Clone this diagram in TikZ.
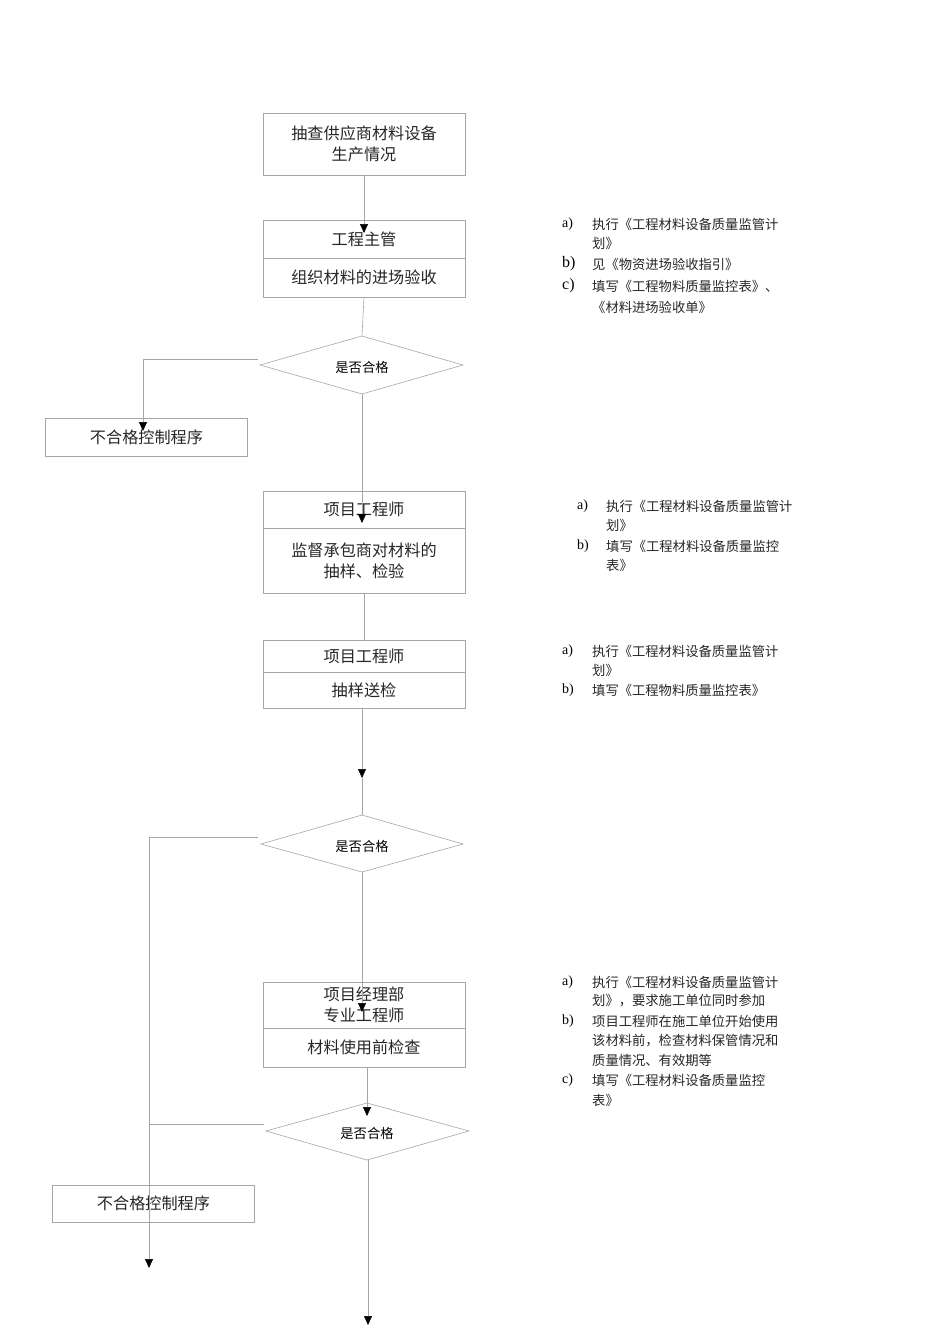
\documentclass[tikz,border=0pt]{standalone}
\usepackage{fontspec}
\setmainfont{Liberation Serif}
\newfontfamily\cjk{Noto Sans CJK SC}[Scale=0.95]
\usetikzlibrary{arrows.meta}
\tikzset{
 ln/.style={draw=black!35,line width=0.6pt},
 arr/.style={ln,-{Triangle[length=9pt,width=8pt,fill=black,color=black]}},
 bx/.style={draw=black!35,line width=0.6pt,minimum width=202pt,inner sep=0pt,align=center,font=\cjk\fontsize{17}{21}\selectfont,text=black!85},
 dia/.style={draw=black!35,line width=0.6pt},
 lbl/.style={anchor=west,font=\fontsize{14}{16}\selectfont,inner sep=0pt},
 rt/.style={anchor=west,font=\cjk\fontsize{14}{16}\selectfont,inner sep=0pt,text=black!85},
 dl/.style={font=\cjk\fontsize{14}{16}\selectfont,inner sep=0pt}
}
\begin{document}
\begin{tikzpicture}[x=1pt,y=-1pt]
\useasboundingbox (0,0) rectangle (950,1344);
% boxes
\node[bx,minimum height=62pt] (b1) at (364,144) {抽查供应商材料设备\\生产情况};
\node[bx,minimum height=38pt] (b2t) at (364,239) {工程主管};
\node[bx,minimum height=39pt] (b2b) at (364,277.5) {组织材料的进场验收};
\node[bx,minimum height=38pt] (n1) at (146.5,437) {不合格控制程序};
\node[bx,minimum height=37pt] (b3t) at (364,509.5) {项目工程师};
\node[bx,minimum height=65pt] (b3b) at (364,560.5) {监督承包商对材料的\\抽样、检验};
\node[bx,minimum height=32pt] (b4t) at (364,656) {项目工程师};
\node[bx,minimum height=36pt] (b4b) at (364,690) {抽样送检};
\node[bx,minimum height=46pt] (b5t) at (364,1005) {项目经理部\\专业工程师};
\node[bx,minimum height=39pt] (b5b) at (364,1047.5) {材料使用前检查};
\node[bx,minimum height=37pt] (n2) at (153.5,1203.5) {不合格控制程序};
% diamonds
\draw[dia] (260,365) coordinate (d1l) -- (362,336) coordinate (d1t) -- (463,365) -- (362,394) coordinate (d1b) -- cycle;
\node[dl] (d1) at (362,367) {是否合格};
\draw[dia] (261,844) coordinate (d2l) -- (362,815) coordinate (d2t) -- (463,844) -- (362,872) coordinate (d2b) -- cycle;
\node[dl] (d2) at (362,846) {是否合格};
\draw[dia] (266,1131) coordinate (d3l) -- (367,1103) coordinate (d3t) -- (469,1131) -- (367,1160) coordinate (d3b) -- cycle;
\node[dl] (d3) at (367,1133) {是否合格};
% connectors
\draw[arr] (b1.south) -- (364,233);
\draw[ln] (b2b.south) -- (d1t);
\draw[arr] (258,359) -- (143,359) -- (143,431);
\draw[arr] (d1b) -- (362,523);
\draw[ln] (b3b.south) -- (b4t.north);
\draw[arr] (b4b.south) ++(-2,0) -- (362,778);
\draw[ln] (362,778) -- (d2t);
\draw[arr] (258,837) -- (149,837) -- (149,1268);
\draw[arr] (d2b) -- (362,1012);
\draw[arr] (b5b.south) ++(3,0) -- (367,1116);
\draw[ln] (264,1124) -- (149,1124);
\draw[arr] (d3b) ++(1,0) -- (368,1325);
% right texts
\node[lbl] (g1a) at (562,224) {a)}; \node[rt] (g1at) at (592,224) {执行《工程材料设备质量监管计};
\node[rt] (g1a2) at (592,243) {划》};
\node[lbl,font=\fontsize{16}{18}\selectfont] (g1b) at (562,264) {b)}; \node[rt] (g1bt) at (592,264) {见《物资进场验收指引》};
\node[lbl,font=\fontsize{16}{18}\selectfont] (g1c) at (562,286) {c)}; \node[rt] (g1ct) at (592,286) {填写《工程物料质量监控表》、};
\node[rt] (g1c2) at (592,307) {《材料进场验收单》};
\node[lbl] (g2a) at (577,506) {a)}; \node[rt] (g2at) at (606,506) {执行《工程材料设备质量监管计};
\node[rt] (g2a2) at (606,525) {划》};
\node[lbl] (g2b) at (577,546) {b)}; \node[rt] (g2bt) at (606,546) {填写《工程材料设备质量监控};
\node[rt] (g2b2) at (606,565) {表》};
\node[lbl] (g3a) at (562,651) {a)}; \node[rt] (g3at) at (592,651) {执行《工程材料设备质量监管计};
\node[rt] (g3a2) at (592,670) {划》};
\node[lbl] (g3b) at (562,690) {b)}; \node[rt] (g3bt) at (592,690) {填写《工程物料质量监控表》};
\node[lbl] (g4a) at (562,982) {a)}; \node[rt] (g4at) at (592,982) {执行《工程材料设备质量监管计};
\node[rt] (g4a2) at (592,1001) {划》，要求施工单位同时参加};
\node[lbl] (g4b) at (562,1021) {b)}; \node[rt] (g4bt) at (592,1021) {项目工程师在施工单位开始使用};
\node[rt] (g4b2) at (592,1041) {该材料前，检查材料保管情况和};
\node[rt] (g4b3) at (592,1060) {质量情况、有效期等};
\node[lbl] (g4c) at (562,1080) {c)}; \node[rt] (g4ct) at (592,1080) {填写《工程材料设备质量监控};
\node[rt] (g4c2) at (592,1100) {表》};
\end{tikzpicture}
\end{document}
